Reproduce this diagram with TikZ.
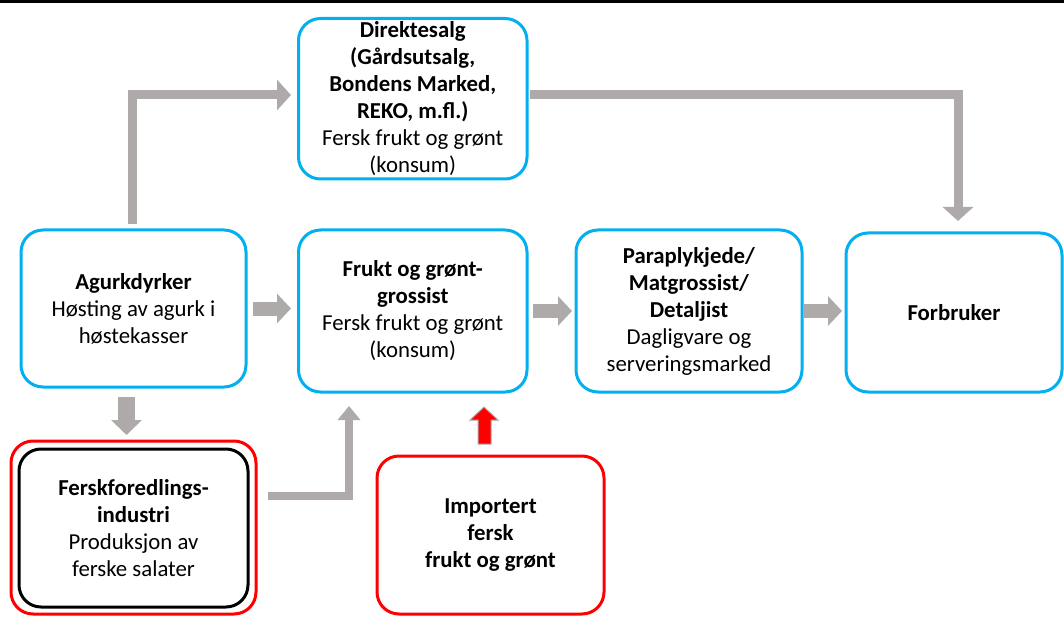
\documentclass[tikz,border=0pt]{standalone}
\usepackage{fontspec}
\setmainfont{Carlito}
\usetikzlibrary{arrows.meta}
\definecolor{boxblue}{HTML}{00B0F0}
\definecolor{arrowgray}{HTML}{AEAAAA}
\definecolor{boxred}{HTML}{FF0000}
\tikzset{
  box/.style={draw=boxblue, line width=3pt, rounded corners=22pt, align=center,
    font=\fontsize{22.8}{27}\selectfont, inner sep=0pt},
  redbox/.style={box, draw=boxred},
  blackbox/.style={box, draw=black},
  bigarrow/.style={draw=arrowgray, line width=9pt, line join=miter,
    -{Triangle[length=14pt,width=30pt]}},
  midarrow/.style={draw=arrowgray, line width=14pt,
    -{Triangle[length=14pt,width=29pt]}},
  downarrow/.style={draw=arrowgray, line width=17pt,
    -{Triangle[length=15pt,width=30pt]}},
  thinarrow/.style={draw=arrowgray, line width=8pt, line join=miter,
    -{Triangle[length=14pt,width=22pt]}},
  importarrow/.style={fill=boxred, draw=arrowgray, line width=1pt, line join=miter}
}
\begin{document}
\begin{tikzpicture}[x=1pt,y=-1pt]
\useasboundingbox (0,0) rectangle (1064,617);
\fill[black] (0,0) rectangle (1064,3);

\node[box, minimum width=228.5pt, minimum height=160.5pt] (direkt) at (412.75,98.75)
  {\textbf{Direktesalg}\\\textbf{(Gårdsutsalg,}\\\textbf{Bondens Marked,}\\\textbf{REKO, m.fl.)}\\Fersk frukt og grønt\\(konsum)};
\node[box, minimum width=225pt, minimum height=157pt] (agurk) at (133.5,308.5)
  {\textbf{Agurkdyrker}\\Høsting av agurk i\\høstekasser};
\node[box, minimum width=228.5pt, minimum height=162pt] (frukt) at (412.75,311)
  {\textbf{Frukt og grønt-}\\\textbf{grossist}\\Fersk frukt og grønt\\(konsum)};
\node[box, minimum width=226pt, minimum height=162pt] (para) at (689,311)
  {\textbf{Paraplykjede/}\\\textbf{Matgrossist/}\\\textbf{Detaljist}\\Dagligvare og\\serveringsmarked};
\node[box, minimum width=216pt, minimum height=159pt] (forb) at (954,312.5)
  {\textbf{Forbruker}};
\node[redbox, minimum width=245pt, minimum height=173pt] (fersk) at (133.5,527.5) {};
\node[blackbox, minimum width=229pt, minimum height=158pt] (ferskin) at (133.5,528)
  {\textbf{Ferskforedlings-}\\\textbf{industri}\\Produksjon av\\ferske salater};
\node[redbox, minimum width=227pt, minimum height=158pt] (import) at (490.5,535)
  {\textbf{Importert}\\\textbf{fersk}\\\textbf{frukt og grønt}};

% connectors
\draw[bigarrow] ([xshift=-1pt,yshift=4.5pt]agurk.north) |- ([xshift=-6pt,yshift=3.75pt]direkt.west);
\draw[bigarrow] ([xshift=1.5pt,yshift=3.75pt]direkt.east) -| ([xshift=4pt,yshift=10.5pt]forb.north);
\draw[midarrow] ([xshift=5.5pt]agurk.east) -- ([xshift=-6pt]agurk.east -| frukt.west);
\draw[midarrow] ([xshift=4.5pt]frukt.east) -- ([xshift=-2.5pt]frukt.east -| para.west);
\draw[midarrow] ([xshift=0.5pt]para.east) -- ([xshift=-2.5pt]para.east -| forb.west);
\draw[downarrow] ([xshift=-7pt,yshift=-8.5pt]agurk.south) -- ([xshift=-7pt,yshift=4.5pt]agurk.south |- fersk.north);
\draw[thinarrow] ([xshift=10.5pt,yshift=32pt]fersk.east) -| ([xshift=-63.75pt,yshift=-12.5pt]frukt.south);
\path[importarrow] (484,407) -- (498,420) -- (491,420) -- (491,444) -- (478,444) -- (478,420) -- (470,420) -- cycle;
\end{tikzpicture}
\end{document}
